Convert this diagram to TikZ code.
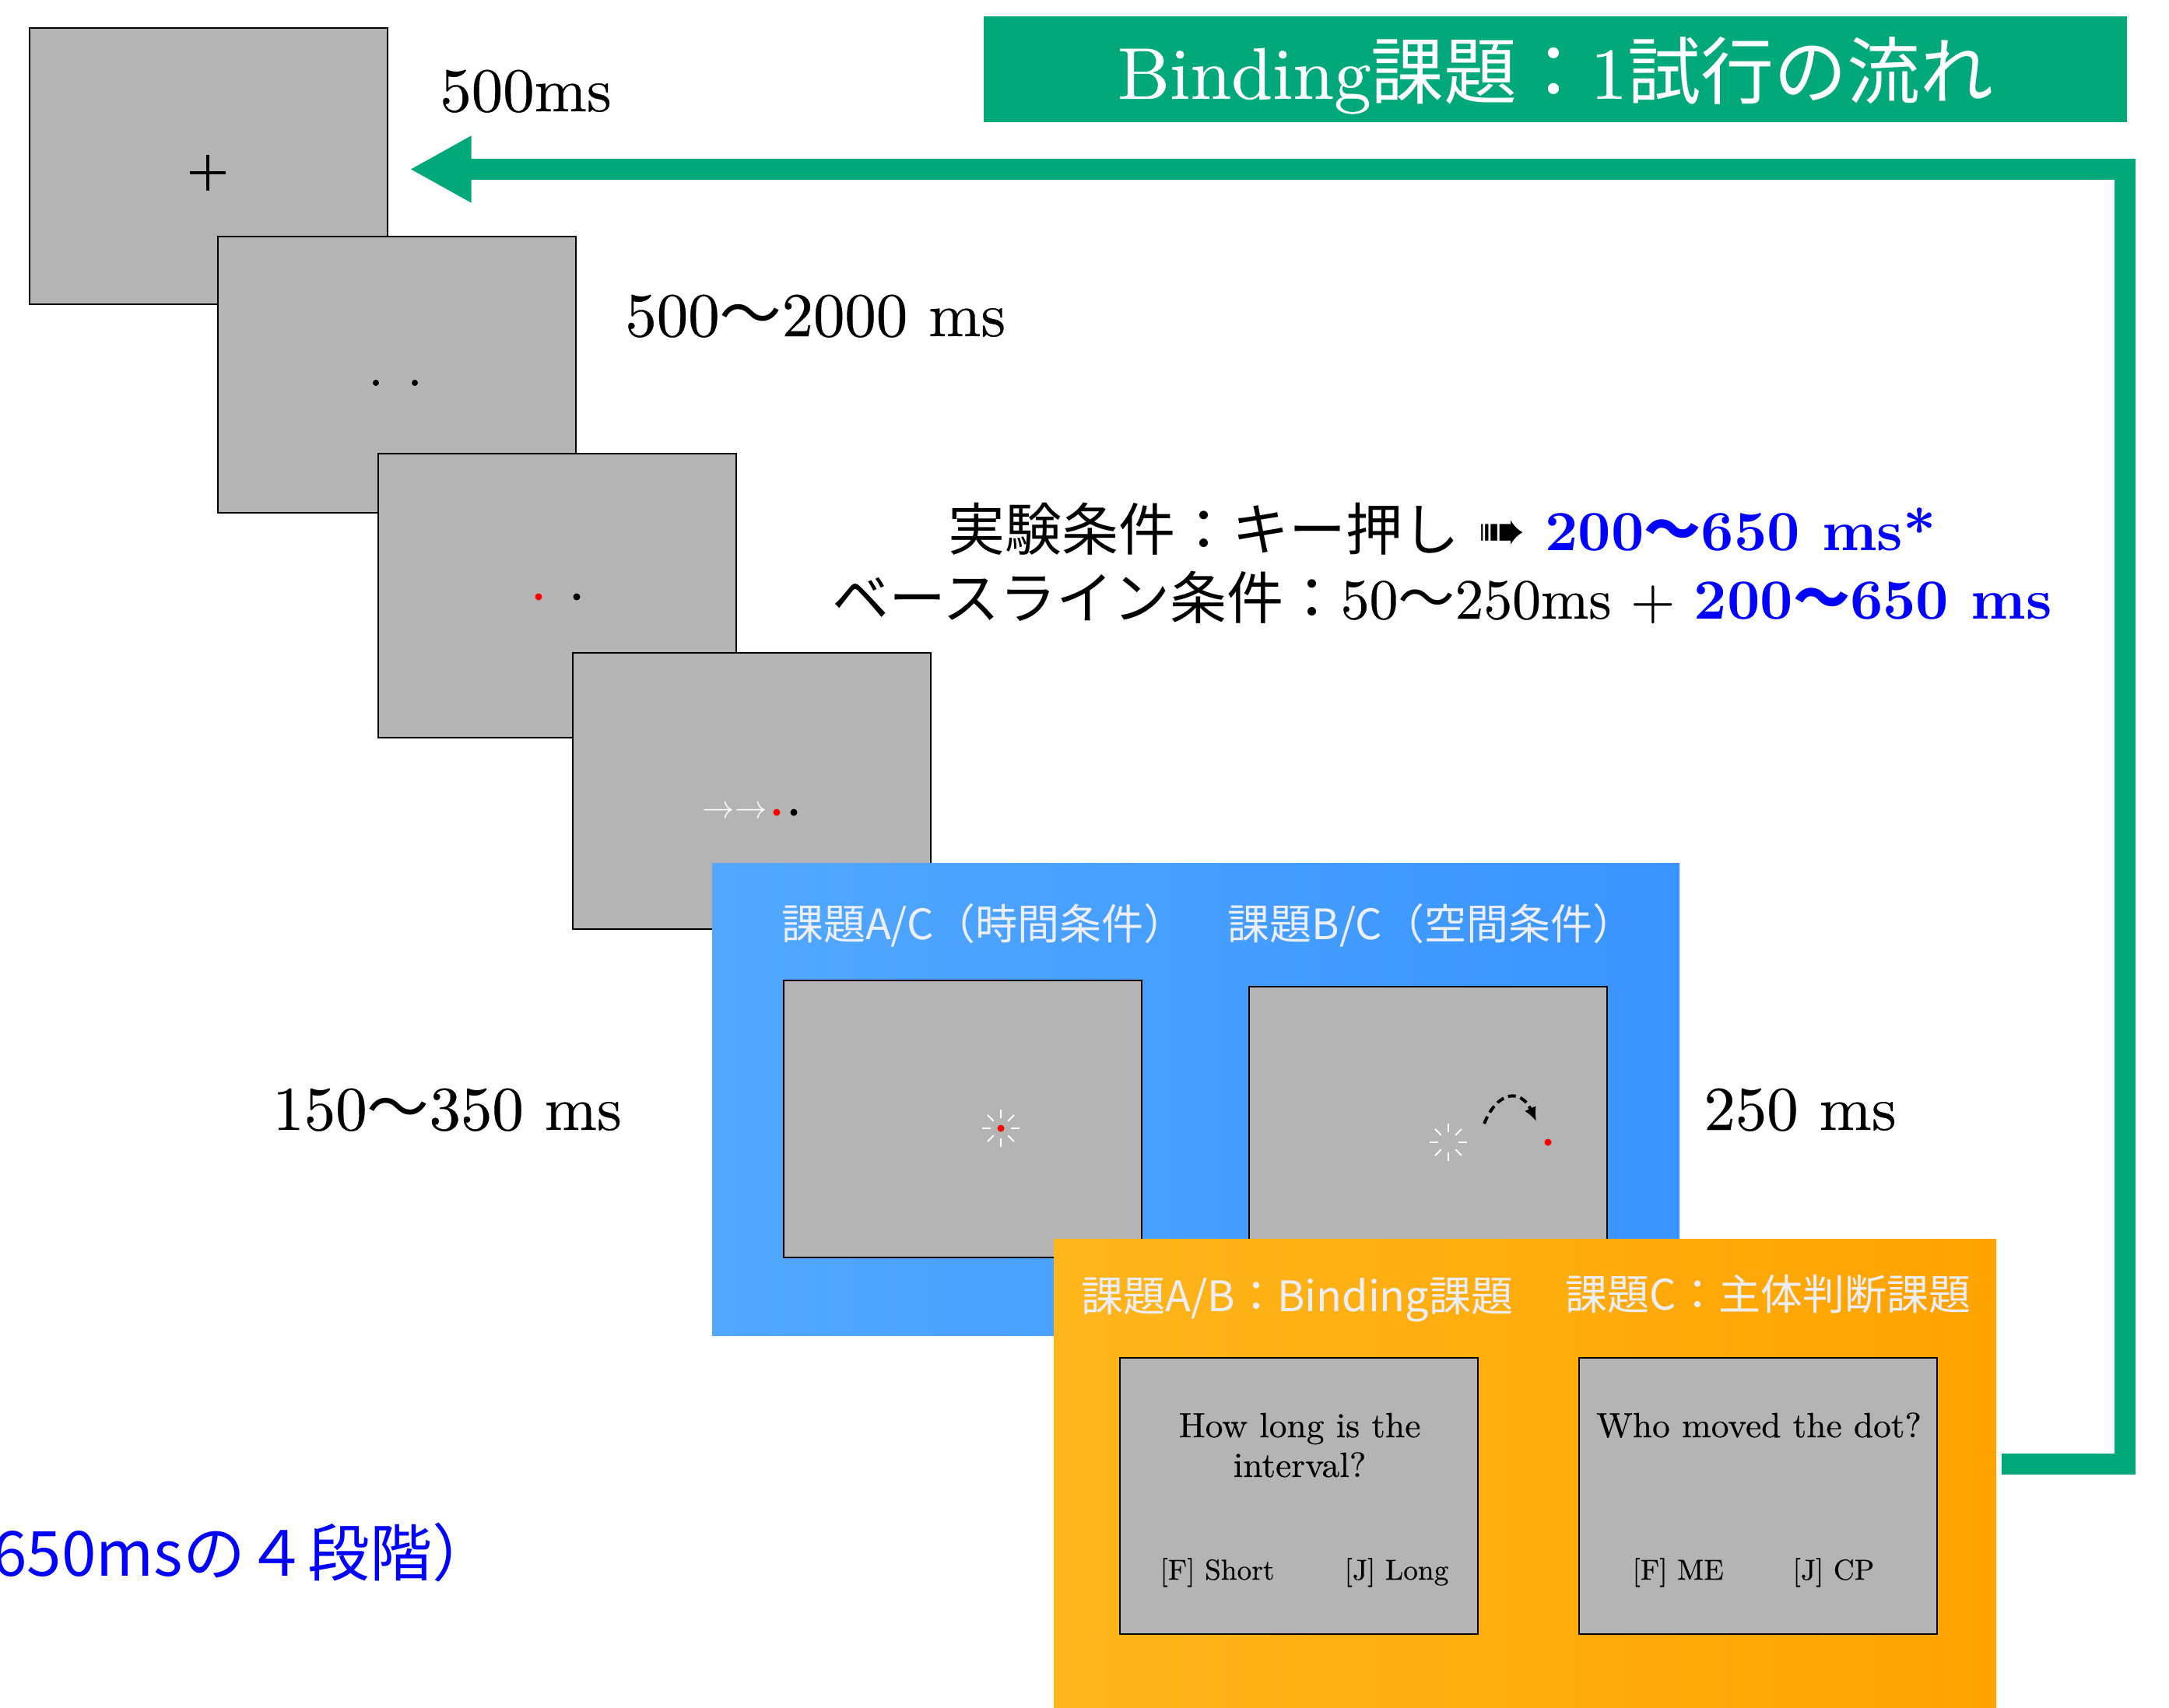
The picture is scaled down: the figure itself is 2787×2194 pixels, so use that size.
\documentclass[tikz,border=0pt]{standalone}
\usepackage{fontspec}
\setmainfont{lmroman10-regular.otf}[BoldFont=lmroman10-bold.otf,ItalicFont=lmroman10-italic.otf,BoldItalicFont=lmroman10-bolditalic.otf,FakeStretch=1.01,UprightFeatures={FakeBold=0.4}]
\newfontfamily\jp{Noto Sans CJK JP}
\newfontfamily\djv{DejaVu Sans}
\usetikzlibrary{arrows.meta}
\definecolor{grn}{RGB}{0,168,122}
\definecolor{scr}{RGB}{180,180,180}
\definecolor{bluA}{RGB}{82,168,255}
\definecolor{bluB}{RGB}{58,148,255}
\definecolor{orA}{RGB}{255,182,28}
\definecolor{orB}{RGB}{255,163,0}
\definecolor{ptxt}{RGB}{236,238,250}
\definecolor{bl}{RGB}{0,0,255}
\newcommand\myw{{\jp 〜}}
\begin{document}
\begin{tikzpicture}[x=0.5pt,y=-0.5pt,line join=miter,
  screen/.style={draw=black,line width=1pt,fill=scr,inner sep=0pt,minimum width=230pt,minimum height=177.5pt},
  dur/.style={font=\fontsize{40}{48}\selectfont,inner sep=0pt,anchor=base west},
  cond/.style={font=\fontsize{36.5}{44}\selectfont,inner sep=0pt,anchor=base},
  ptitle/.style={font=\jp\fontsize{27}{32}\selectfont,text=ptxt,inner sep=0pt,anchor=base},
  quest/.style={font=\fontsize{22.5}{27}\selectfont,inner sep=0pt,anchor=base},
  keyt/.style={font=\fontsize{18.5}{22}\selectfont,inner sep=0pt,anchor=base west},
  tick/.style={white,line width=1pt},
  dotr/.style={fill=red},
  dotk/.style={fill=black}]
\useasboundingbox (0,0) rectangle (2787,2194);
\fill[white] (0,0) rectangle (2787,2194);

% title
\node[fill=grn,minimum width=734.5pt,minimum height=68pt,inner sep=0pt] (title) at (1998.5,89) {};
\node[anchor=base,text=white,font=\fontsize{47}{56}\selectfont,inner sep=0pt] (titletext) at (1998.5,127) {Binding{\jp 課題：}1{\jp 試行の流れ}};

% screens sequence
\node[screen] (b1) at (267.5,213.5) {};
\draw[line width=1.8pt] (244,222) -- (290,222) (267,199) -- (267,245);
\node[screen] (b2) at (509.5,481) {};
\fill (483,492) circle (4);
\fill (533,492) circle (4);
\node[screen,minimum height=182.5pt] (b3) at (716,765.5) {};
\fill[red] (692,767) circle (4.5);
\fill (741,767) circle (4.5);
\node[screen] (b4) at (966,1016.5) {};
\node[text=white,font=\fontsize{20}{24}\selectfont,inner sep=0pt] (arr) at (944,1044) {$\rightarrow\rightarrow$};
\fill[red] (998,1044) circle (4.5);
\fill (1020,1044) circle (4.5);

% durations
\node[dur] (d1) at (565,143) {500ms};
\node[dur] (d2) at (803,432) {500\myw2000 ms};
\node[dur] (d3) at (350,1452) {150\myw350 ms};
\node[dur] (d4) at (2189,1452) {250 ms};

% conditions
\node[cond] (c1) at (1853,707) {{\jp 実験条件：キー押し} {\djv ➠} \textcolor{bl}{\bfseries 200\myw650 ms*}};
\node[cond] (c2) at (1853,795) {{\jp ベースライン条件：}50\myw250ms + \textcolor{bl}{\bfseries 200\myw650 ms}};

% blue panel
\node[inner sep=0pt,minimum width=621.5pt,minimum height=303.5pt,left color=bluA,right color=bluB] (bp) at (1536.5,1412.5) {};
\node[ptitle] (bt1) at (1264,1207) {課題A/C（時間条件）};
\node[ptitle] (bt2) at (1839,1207) {課題B/C（空間条件）};
\node[screen,minimum height=178pt] (s5) at (1237,1438) {};
\begin{scope}[shift={(1286,1450)}]
  \foreach \a in {0,45,...,315} \draw[tick] (\a:13) -- (\a:24);
\end{scope}
\fill[red] (1286,1450) circle (4.5);
\node[screen,minimum height=178pt] (s6) at (1835,1446) {};
\begin{scope}[shift={(1861,1468)}]
  \foreach \a in {0,45,...,315} \draw[tick] (\a:13) -- (\a:24);
\end{scope}
\fill[red] (1989,1468) circle (4.5);
\draw[line width=2pt,dash pattern=on 5pt off 3pt,-{Latex[length=9pt,width=8pt]}] (1907,1444) .. controls (1925,1400) and (1955,1400) .. (1974,1441);

% orange panel
\node[inner sep=0pt,minimum width=605.5pt,minimum height=304pt,left color=orA,right color=orB] (op) at (1959.5,1896) {};
\node[ptitle] (ot1) at (1667,1685) {課題A/B：Binding課題};
\node[ptitle] (ot2) at (2272,1683) {課題C：主体判断課題};
\node[screen] (s7) at (1669,1922.5) {};
\node[screen] (s8) at (2259,1922.5) {};
\node[quest] (q1) at (1670,1847) {How long is the};
\node[quest] (q2) at (1670,1898) {interval?};
\node[quest] (q3) at (2260,1847) {Who moved the dot?};
\node[keyt] (k1) at (1490,2030) {[F] Short};
\node[keyt] (k2) at (1727,2030) {[J] Long};
\node[keyt] (k3) at (2097,2030) {[F] ME};
\node[keyt] (k4) at (2303,2030) {[J] CP};

% bottom-left levels
\node[anchor=base west,text=bl,font=\jp\fontsize{40}{48}\selectfont,inner sep=0pt] (lv) at (-10,2025) {650msの４段階）};

% green loop arrow
\coordinate (gc1) at (2730.5,1881);
\coordinate (gc2) at (2730.5,217.5);
\coordinate (gs) at ([xshift=3.5pt]op.east);
\coordinate (ge) at ([xshift=14pt]b1.east);
\draw[grn,line width=13.5pt,-{Triangle[length=39.5pt,width=40pt]}] (gs |- gc1) -- (gc1) -- (gc2) -- (ge |- gc2);
\end{tikzpicture}
\end{document}
